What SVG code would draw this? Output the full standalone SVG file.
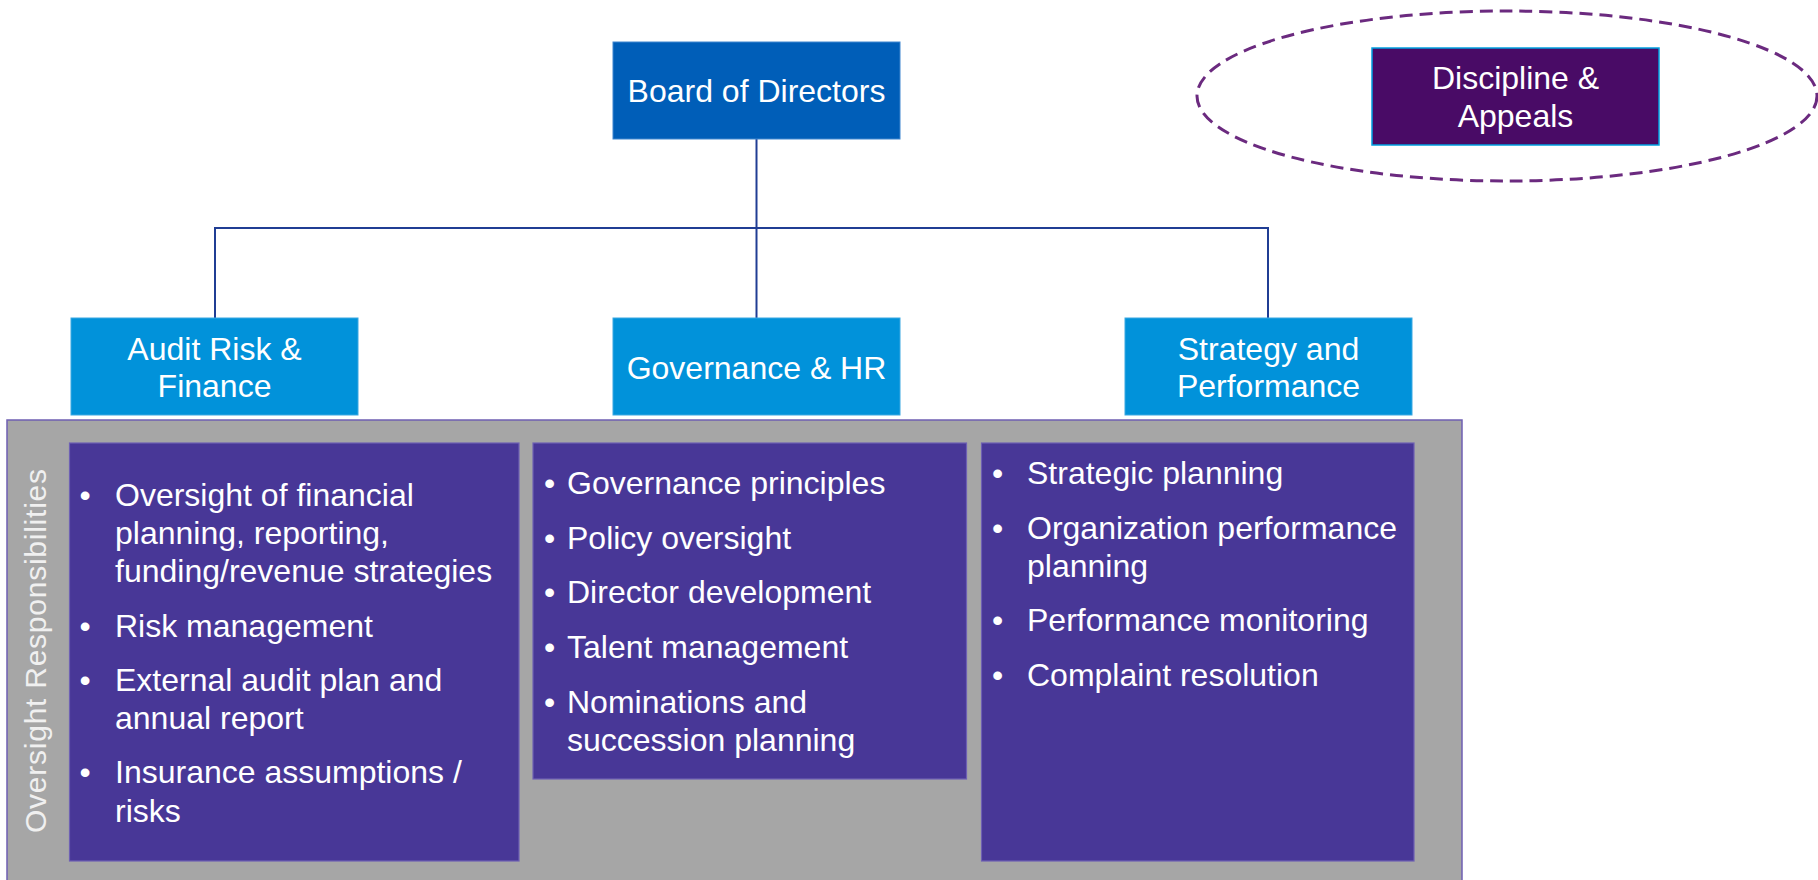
<svg xmlns="http://www.w3.org/2000/svg" width="1818" height="880" viewBox="0 0 1818 880">
<style>
.t{font-family:"Liberation Sans",Arial,sans-serif;font-size:32px;fill:#ffffff}
.c{text-anchor:middle}
.blue{fill:#0192DA;stroke:#3AA8E2;stroke-width:1}
.col{fill:#483797;stroke:#6E60B4;stroke-width:1.2}
.conn{fill:none;stroke:#203D94;stroke-width:2}
</style>
<rect width="1818" height="880" fill="#ffffff"/>

<g id="connectors">
<path class="conn" d="M756.5,139 V318"/>
<path class="conn" d="M215,318 V228 H1268 V318"/>
</g>

<g id="board">
<rect x="613" y="42" width="287" height="97" fill="#005EB8" stroke="#3F86CF" stroke-width="1"/>
<text class="t c" x="756.5" y="102">Board of Directors</text>
</g>

<g id="discipline">
<ellipse cx="1507" cy="96" rx="310" ry="85" fill="none" stroke="#6B2A7F" stroke-width="3" stroke-dasharray="13 7"/>
<rect x="1372" y="48" width="287" height="97" fill="#490B66" stroke="#00A0E0" stroke-width="1.5"/>
<text class="t c" x="1515.5" y="89">Discipline &amp;</text>
<text class="t c" x="1515.5" y="127">Appeals</text>
</g>

<g id="panel">
<rect x="7" y="420" width="1455" height="470" fill="#A6A6A6" stroke="#6F5FB3" stroke-width="1.5"/>
<text transform="translate(46,651) rotate(-90)" text-anchor="middle" textLength="364" lengthAdjust="spacing" style="font-family:'Liberation Sans',Arial,sans-serif;font-size:30px;fill:#F0F0F0">Oversight Responsibilities</text>
</g>

<g id="audit">
<rect class="blue" x="71" y="318" width="287" height="97"/>
<text class="t c" x="214.5" y="360">Audit Risk &amp;</text>
<text class="t c" x="214.5" y="397">Finance</text>
</g>

<g id="governance">
<rect class="blue" x="613" y="318" width="287" height="97"/>
<text class="t c" x="756.5" y="379">Governance &amp; HR</text>
</g>

<g id="strategy">
<rect class="blue" x="1125" y="318" width="287" height="97"/>
<text class="t c" x="1268.5" y="360">Strategy and</text>
<text class="t c" x="1268.5" y="397">Performance</text>
</g>

<g id="audit-list">
<rect class="col" x="69.5" y="443" width="449.5" height="418"/>
<text class="t c" x="85" y="506">•</text>
<text class="t" x="115" y="506">Oversight of financial</text>
<text class="t" x="115" y="544">planning, reporting,</text>
<text class="t" x="115" y="582">funding/revenue strategies</text>
<text class="t c" x="85" y="637">•</text>
<text class="t" x="115" y="637">Risk management</text>
<text class="t c" x="85" y="691">•</text>
<text class="t" x="115" y="691">External audit plan and</text>
<text class="t" x="115" y="729">annual report</text>
<text class="t c" x="85" y="783">•</text>
<text class="t" x="115" y="783">Insurance assumptions /</text>
<text class="t" x="115" y="822">risks</text>
</g>

<g id="governance-list">
<rect class="col" x="533" y="443" width="433.5" height="336"/>
<text class="t c" x="549.5" y="494">•</text>
<text class="t" x="567" y="494">Governance principles</text>
<text class="t c" x="549.5" y="549">•</text>
<text class="t" x="567" y="549">Policy oversight</text>
<text class="t c" x="549.5" y="603">•</text>
<text class="t" x="567" y="603">Director development</text>
<text class="t c" x="549.5" y="658">•</text>
<text class="t" x="567" y="658">Talent management</text>
<text class="t c" x="549.5" y="713">•</text>
<text class="t" x="567" y="713">Nominations and</text>
<text class="t" x="567" y="751">succession planning</text>
</g>

<g id="strategy-list">
<rect class="col" x="981.5" y="443" width="432.5" height="418"/>
<text class="t c" x="997.5" y="484">•</text>
<text class="t" x="1027" y="484">Strategic planning</text>
<text class="t c" x="997.5" y="539">•</text>
<text class="t" x="1027" y="539">Organization performance</text>
<text class="t" x="1027" y="577">planning</text>
<text class="t c" x="997.5" y="631">•</text>
<text class="t" x="1027" y="631">Performance monitoring</text>
<text class="t c" x="997.5" y="686">•</text>
<text class="t" x="1027" y="686">Complaint resolution</text>
</g>
</svg>
